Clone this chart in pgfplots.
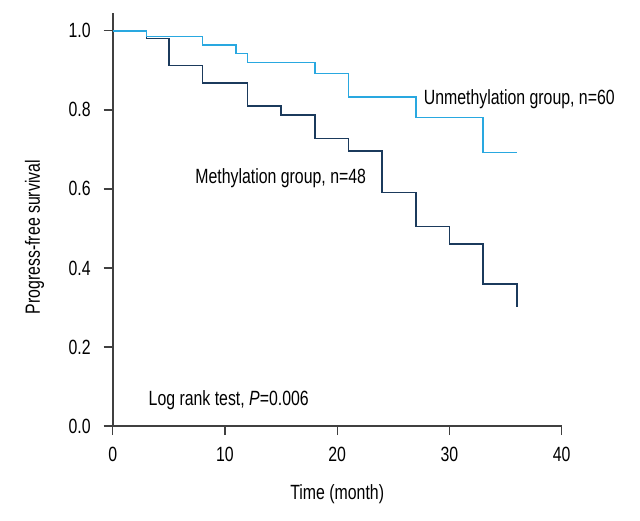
\documentclass[border=0pt]{standalone}
\usepackage{fontspec}
\setmainfont[FakeStretch=0.77]{Liberation Sans}
\usepackage{pgfplots}
\pgfplotsset{compat=1.18}
\definecolor{lightb}{HTML}{29A8E0}
\definecolor{darkb}{HTML}{1B3A5C}
\definecolor{axisgray}{HTML}{404040}
\newcommand\f{\fontsize{10.3pt}{12pt}\selectfont}
\begin{document}
\begin{tikzpicture}[font=\f]
\path[use as bounding box] (-56.35pt,-47pt) rectangle (263.65pt,213pt);
\begin{axis}[
  at={(0,0)}, anchor=south west,
  scale only axis,
  width=224.5pt, height=206.5pt,
  xmin=0, xmax=40, ymin=0, ymax=1.045,
  axis lines=left,
  axis line style={-, axisgray, line width=0.85pt},
  tick style={axisgray, line width=0.7pt},
  tick align=outside,
  major tick length=4.5pt,
  xtick={0,10,20,30,40},
  ytick={0,0.2,0.4,0.6,0.8,1.0},
  yticklabel style={/pgf/number format/fixed, /pgf/number format/fixed zerofill, /pgf/number format/precision=1, xshift=-3pt},
  /pgf/number format/assume math mode=true,
  tick label style={font=\f, text=black},
  xticklabel style={yshift=-2.5pt},
  clip=false,
]
\addplot[const plot, darkb, line width=0.75pt] coordinates {
 (0,1) (3,0.981) (5,0.912) (8,0.868) (12,0.810) (15,0.787) (18,0.727) (21,0.696) (24,0.591) (27,0.505) (30,0.461) (33,0.359) (36,0.301)};
\addplot[const plot, lightb, line width=0.75pt] coordinates {
 (0,1) (3,0.985) (8,0.964) (11,0.943) (12,0.920) (18,0.892) (21,0.833) (27,0.781) (33,0.692) (36,0.692)};
\node[anchor=base west, inner sep=0pt] at (axis cs:27.68,0.8146) {Unmethylation group, n=60};
\node[anchor=base west, inner sep=0pt] at (axis cs:7.33,0.614) {Methylation group, n=48};
\node[anchor=base west, inner sep=0pt] at (axis cs:3.17,0.053) {Log rank test, \textit{P}=0.006};
\node[anchor=base, inner sep=0pt] at (axis cs:20,-0.1855) {Time (month)};
\node[anchor=base, rotate=90, inner sep=0pt] at (axis cs:-6.48,0.478) {Progress-free survival};
\end{axis}
\end{tikzpicture}
\end{document}
